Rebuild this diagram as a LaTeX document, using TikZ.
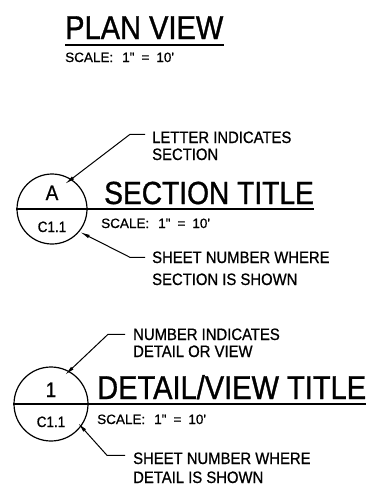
\documentclass[tikz,border=0pt]{standalone}
\usepackage{fontspec}
\setmainfont{Liberation Sans}
\newfontfamily\titlefont[FakeStretch=0.88, FakeBold=1]{Liberation Sans}
\newfontfamily\notefont[FakeStretch=0.9, FakeBold=0.8]{Liberation Sans}
\newfontfamily\sclfont[FakeBold=0.8]{Liberation Sans}
\usetikzlibrary{arrows.meta, positioning}
\tikzstyle{title}=[anchor=base west, inner sep=0pt, font=\titlefont\fontsize{33}{33}\selectfont]
\tikzstyle{note}=[anchor=base west, inner sep=0pt, font=\notefont\fontsize{16.5}{19}\selectfont]
\tikzstyle{scaletxt}=[anchor=base west, inner sep=0pt, font=\sclfont\fontsize{13.5}{13.5}\selectfont]
\tikzstyle{bubble}=[draw, circle, line width=1.2pt, inner sep=0pt]
\tikzstyle{tag}=[anchor=base, inner sep=0pt, font=\notefont\fontsize{15}{15}\selectfont]
\tikzstyle{leader}=[line width=1pt, -{Latex[length=10pt,width=3.6pt]}]
\def\scl{SCALE:\hspace{9pt}1"\hspace{7pt}=\hspace{7pt}10\textquotesingle}

\begin{document}
\begin{tikzpicture}[x=1pt, y=-1pt]
		\useasboundingbox (0,0) rectangle (379,488);
		\node[title] (plan) at (65,39) {PLAN VIEW};
		\draw[line width=1.6pt] ([yshift=-6pt]plan.base west) -- ([yshift=-6pt]plan.base east);
		\node[scaletxt] (planscl) at (65,62) {\scl};
		%---------------------
		\node[bubble, minimum size=70pt] (secA) at (52,209) {};
		\node[tag, font=\notefont\fontsize{21}{21}\selectfont] (ltrA) at (52,200) {A};
		\node[tag] (shtA) at (52,232) {C1.1};
		\node[title, font=\titlefont\fontsize{32}{32}\selectfont] (sectitle) at (104,204) {SECTION TITLE};
		\draw[line width=1.2pt] (secA.west) -- (secA.west -| sectitle.east);
		\node[scaletxt] (secscl) at (101,228) {\scl};
		\node[note] (ltrnote) at (152,143) {LETTER INDICATES};
		\node[note] (ltrnote2) at (152,160) {SECTION};
		\node[note] (shtnote) at (152,263) {SHEET NUMBER WHERE};
		\node[note] (shtnote2) at (152,285) {SECTION IS SHOWN};
		\coordinate (tipA) at (65,184);
		\coordinate (tipB) at (80,232);
		\draw[leader] ([xshift=-7pt, yshift=3pt]ltrnote.west) -- ++(-15,0) -- (tipA);
		\draw[leader] ([xshift=-7pt]shtnote.west) -- ++(-15,0) -- (tipB);
		%---------------------
		\node[bubble, minimum size=74pt] (det1) at (51,404) {};
		\node[tag, font=\notefont\fontsize{21}{21}\selectfont] (num1) at (51,397) {1};
		\node[tag] (sht1) at (51,427) {C1.1};
		\node[title] (dettitle) at (97,399) {DETAIL/VIEW TITLE};
		\draw[line width=1.2pt] (det1.west) -- (det1.west -| dettitle.east);
		\node[scaletxt] (detscl) at (97,424) {\scl};
		\node[note] (numnote) at (133,340) {NUMBER INDICATES};
		\node[note] (numnote2) at (133,357) {DETAIL OR VIEW};
		\node[note] (sht2note) at (133,464) {SHEET NUMBER WHERE};
		\node[note] (sht2note2) at (133,483) {DETAIL IS SHOWN};
		\coordinate (tipC) at (65,375);
		\coordinate (tipD) at (78,423);
		\draw[leader] ([xshift=-8pt]numnote.west) -- ++(-17,0) -- (tipC);
		\draw[leader] ([xshift=-8pt, yshift=3pt]sht2note.west) -- ++(-18,0) -- (tipD);
	\end{tikzpicture}
\end{document}
